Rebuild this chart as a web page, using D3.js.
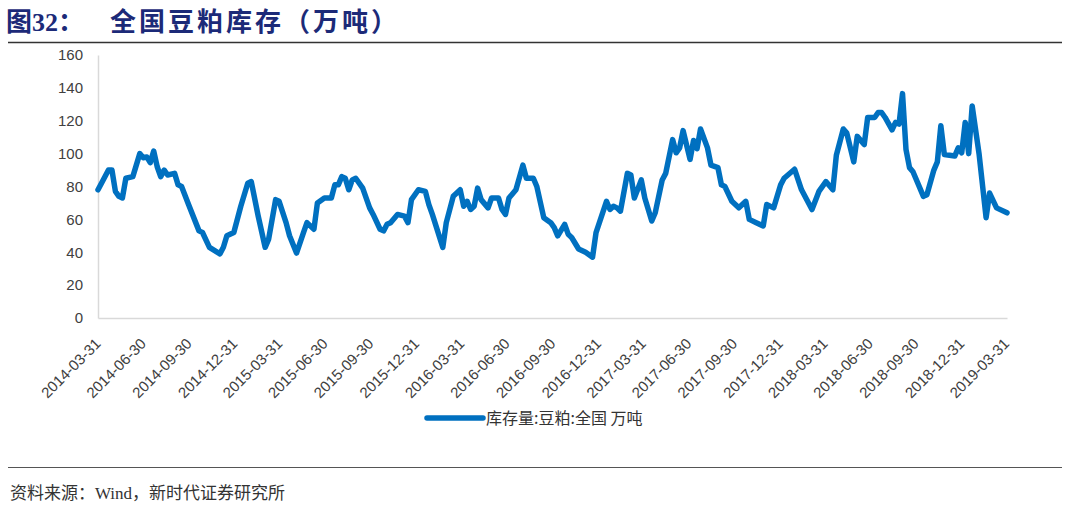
<!DOCTYPE html>
<html>
<head>
<meta charset="utf-8">
<script src="https://cdn.jsdelivr.net/npm/d3@7"></script>
<style>
  body { margin: 0; background: #fff; }
  svg { display: block; }
</style>
</head>
<body>
<div id="chart"></div>
<script>
// weekly data, week number counted from 2014-03-28
const startDay = "2014-03-28";
const weeks = [0, 1, 3, 4, 5, 6, 7, 8, 10, 12, 13, 14, 15, 16, 17, 18, 19, 20, 22, 23, 24, 26, 29, 30, 32, 35, 36, 37, 39, 41, 43, 44, 46, 48, 49, 51, 52, 54, 55, 57, 59, 60, 62, 63, 65, 67, 68, 69, 70, 71, 72, 73, 74, 76, 78, 79, 81, 82, 83, 84, 86, 88, 89, 90, 92, 94, 95, 96, 99, 100, 102, 104, 105, 106, 107, 108, 109, 110, 112, 113, 115, 116, 117, 118, 120, 122, 123, 125, 126, 128, 130, 131, 132, 134, 135, 136, 138, 140, 142, 143, 146, 147, 148, 149, 150, 152, 153, 154, 156, 157, 159, 160, 162, 163, 165, 166, 167, 168, 170, 171, 172, 173, 175, 176, 178, 179, 180, 182, 184, 186, 187, 189, 191, 192, 194, 196, 197, 200, 202, 205, 207, 209, 211, 212, 214, 215, 217, 218, 220, 221, 223, 224, 225, 226, 228, 229, 230, 231, 232, 233, 234, 237, 238, 240, 241, 242, 243, 246, 247, 248, 249, 250, 251, 253, 255, 256, 258, 261];
const stock = [78, 82, 90, 90, 77, 74, 73, 85, 86, 100, 97.5, 98, 94.5, 101.5, 92, 86, 90, 87, 88, 81, 80, 69, 53, 52, 43, 39, 43, 50, 52, 68, 82, 83, 62, 43, 48, 72, 71, 58, 50, 39.5, 52, 58, 54, 70, 73, 73, 81, 81, 86, 85, 78, 84, 85, 79, 67, 63, 54, 53, 57, 58, 63, 62, 58, 72, 78, 77, 69, 63, 43, 58, 74, 78, 68, 71, 66, 68, 79, 72, 67, 73, 73, 66, 63, 73, 78, 93, 85, 85, 80, 61, 58, 55, 50, 57, 51, 49, 42, 40, 37, 52, 71, 66, 68, 67, 65, 88, 87, 73, 84, 73, 59, 64, 84, 88, 108.5, 100.5, 103.5, 114, 96.5, 108, 103, 115, 103.5, 93, 91.5, 81, 80, 71, 67, 71, 60, 58, 56, 69, 67, 81, 85, 90.5, 78, 66, 77, 83, 78, 99, 115, 112.5, 95, 110.5, 105.5, 122, 122, 125, 125, 122, 114.5, 119, 118, 136.5, 102.5, 91.5, 89, 74, 75, 90, 95, 117, 99.5, 98.5, 103.5, 100.5, 119, 100, 129, 99.5, 61, 76, 67, 64];

const tickLabels = ["2014-03-31", "2014-06-30", "2014-09-30", "2014-12-31", "2015-03-31", "2015-06-30", "2015-09-30", "2015-12-31", "2016-03-31", "2016-06-30", "2016-09-30", "2016-12-31", "2017-03-31", "2017-06-30", "2017-09-30", "2017-12-31", "2018-03-31", "2018-06-30", "2018-09-30", "2018-12-31", "2019-03-31"];
const yTicks = [0, 20, 40, 60, 80, 100, 120, 140, 160];

const seriesName = "库存量:豆粕:全国 万吨";
const titleNo = "图32：";
const titleText = "全国豆粕库存（万吨）";
const sourceText = "资料来源：Wind，新时代证券研究所";

const W = 1080, H = 514;
const margin = {top: 55, right: 73, bottom: 196, left: 98};
const width = W - margin.left - margin.right;
const height = H - margin.top - margin.bottom;

const parse = d3.timeParse("%Y-%m-%d");
const t0 = parse(startDay);
const data = weeks.map((w, i) => ({date: d3.timeDay.offset(t0, w * 7), v: stock[i]}));

const svg = d3.select("#chart")
  .append("svg")
    .attr("width", W)
    .attr("height", H);

// title
const title = svg.append("text")
  .attr("y", 31)
  .attr("fill", "#1c2a78")
  .style("font-weight", "bold")
  .style("font-size", "26px");
title.append("tspan")
  .attr("x", 6)
  .style("font-family", "'Liberation Serif', 'Noto Sans CJK SC'")
  .text(titleNo);
title.append("tspan")
  .attr("x", 110)
  .style("font-family", "'Noto Sans CJK SC'")
  .style("letter-spacing", "3px")
  .text(titleText);

svg.append("line")
  .attr("x1", 8).attr("x2", 1062)
  .attr("y1", 42.5).attr("y2", 42.5)
  .attr("stroke", "#333").attr("stroke-width", 1.5);

const g = svg.append("g")
  .attr("transform", `translate(${margin.left},${margin.top})`);

const x = d3.scaleTime()
  .domain([t0, d3.timeDay.offset(t0, 261 * 7)])
  .range([0, width]);

const y = d3.scaleLinear()
  .domain([0, 160])
  .range([height, 0]);

// y axis
const yAxis = g.append("g")
  .call(d3.axisLeft(y).tickValues(yTicks).tickSize(0).tickPadding(15));
yAxis.select(".domain").attr("stroke", "#d9d9d9").attr("stroke-width", 1.5);
yAxis.selectAll("text")
  .style("font-family", "'Liberation Sans', Arial, sans-serif")
  .style("font-size", "15px")
  .attr("fill", "#404040");

// x axis
const xAxis = g.append("g")
  .attr("transform", `translate(0,${height})`)
  .call(d3.axisBottom(x).tickValues(tickLabels.map(parse)).tickSize(0).tickFormat(d3.timeFormat("%Y-%m-%d")));
xAxis.select(".domain").attr("stroke", "#d9d9d9").attr("stroke-width", 1.5);
xAxis.selectAll("text")
  .style("font-family", "'Liberation Sans', Arial, sans-serif")
  .style("font-size", "15px")
  .attr("fill", "#404040")
  .attr("text-anchor", "end")
  .attr("x", 0)
  .attr("y", 0)
  .attr("dy", "0.35em")
  .attr("transform", "translate(-2,23) rotate(-45)");

// series
const line = d3.line()
  .x(d => x(d.date))
  .y(d => y(d.v));

g.append("path")
  .datum(data)
  .attr("fill", "none")
  .attr("stroke", "#0070c0")
  .attr("stroke-width", 5.5)
  .attr("stroke-linejoin", "round")
  .attr("stroke-linecap", "round")
  .attr("d", line);

// legend
const lg = svg.append("g").attr("transform", "translate(427,418)");
lg.append("line")
  .attr("x1", 0).attr("x2", 56)
  .attr("stroke", "#0070c0").attr("stroke-width", 5.5).attr("stroke-linecap", "round");
lg.append("text")
  .attr("x", 59).attr("dy", "0.35em")
  .style("font-family", "'Noto Sans CJK SC', sans-serif")
  .style("font-size", "16px")
  .attr("fill", "#333")
  .text(seriesName);

// footer
svg.append("line")
  .attr("x1", 8).attr("x2", 1062)
  .attr("y1", 467.5).attr("y2", 467.5)
  .attr("stroke", "#555").attr("stroke-width", 1.2);

svg.append("text")
  .attr("x", 10).attr("y", 499)
  .style("font-family", "'Liberation Serif', 'Noto Sans CJK SC', serif")
  .style("font-size", "17px")
  .attr("fill", "#333")
  .text(sourceText);
</script>
</body>
</html>
